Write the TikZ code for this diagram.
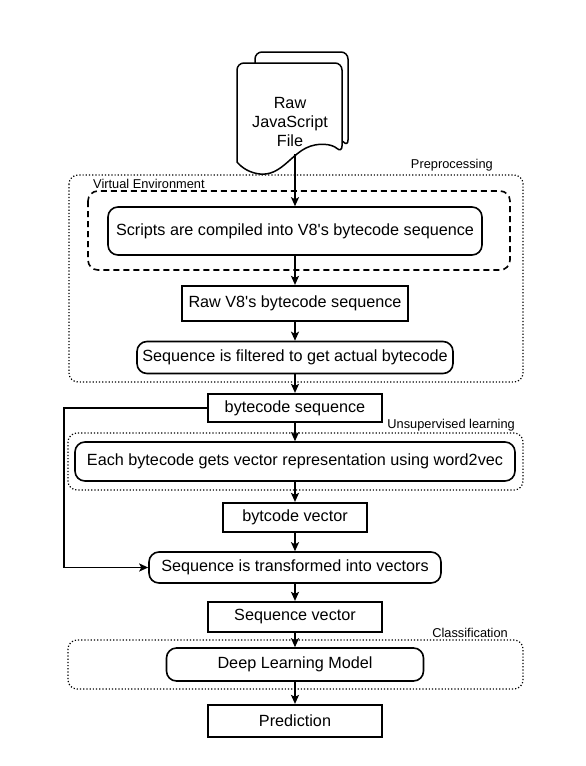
\documentclass[tikz,border=0pt]{standalone}
\usepackage{fontspec}
\setmainfont{Liberation Sans}
\usepackage{tikz}
\usetikzlibrary{
    arrows,
    arrows.meta,
    calc,
    positioning
}

\begin{document}
\begin{tikzpicture}[x=1pt, y=-1pt, >={Stealth[length=9pt, width=8pt, inset=2pt]},
    txt/.style={font=\fontsize{16.2}{19}\selectfont, inner sep=0pt},
    blk/.style={txt, draw, line width=2.2pt, minimum height=#1},
    rnd/.style={txt, draw, line width=1.6pt, rounded corners=10pt, minimum height=#1},
    grp/.style={draw, line width=1.2pt, dotted, rounded corners=9pt},
    lbl/.style={font=\fontsize{12.8}{14}\selectfont, inner sep=0pt},
    flow/.style={->, line width=1.8pt}]
                        \useasboundingbox (0, 0) rectangle (586, 766);
                        % groups
                        \draw[grp] (69, 175) rectangle (523, 382);
                        \draw[line width=1.6pt, dash pattern=on 6pt off 4pt, rounded corners=10pt]
                        (88, 191) rectangle (510, 270);
                        \draw[grp] (68, 433) rectangle (523, 490);
                        \draw[grp] (68, 640) rectangle (523, 689);
                        \node[lbl, anchor=east] (lpre) at (493, 165) {Preprocessing};
                        \node[lbl, anchor=west] (lenv) at (93, 184) {Virtual Environment};
                        \node[lbl, anchor=east] (lunsup) at (515, 425) {Unsupervised learning};
                        \node[lbl, anchor=east] (lcls) at (508, 633) {Classification};
                        % input file
                        \draw[line width=1.5pt, fill=white, rounded corners=7pt]
                        (255, 152) -- (255, 52) -- (348, 52) -- (348, 147)
                        [sharp corners] .. controls (338, 136) and (318, 128) .. (300, 138)
                        .. controls (285, 148) and (268, 160) .. (255, 152);
                        \draw[line width=1.5pt, fill=white, rounded corners=7pt]
                        (237, 162) -- (237, 63) -- (342, 63) -- (342, 153)
                        [sharp corners] .. controls (332, 144) and (318, 142) .. (306, 148)
                        .. controls (290, 156) and (280, 176) .. (260, 174)
                        .. controls (250, 173) and (242, 168) .. (237, 162);
                        \node[txt, align=center] (src) at (290, 122)
                        {Raw\\JavaScript\\File};
                        \coordinate (srcbot) at (295, 154);
                        % steps
                        \node[rnd=48pt, minimum width=374pt] (compile) at (295, 231)
                        {Scripts are compiled into V8\textquotesingle s bytecode sequence};
                        \node[blk=35pt, minimum width=226pt] (rawv8) at (295, 303.5)
                        {Raw V8\textquotesingle s bytecode sequence};
                        \node[rnd=32pt, minimum width=316pt] (filter) at (295, 357.5)
                        {Sequence is filtered to get actual bytecode};
                        \node[blk=28pt, minimum width=174pt] (bseq) at (295, 408)
                        {bytecode sequence};
                        \node[rnd=39pt, minimum width=440pt] (embed) at (295, 461.5)
                        {Each bytecode gets vector representation using word2vec};
                        \node[blk=29pt, minimum width=144pt] (bvec) at (295, 517.5)
                        {bytcode vector};
                        \node[rnd=31pt, minimum width=292pt] (trans) at (295, 567.5)
                        {Sequence is transformed into vectors};
                        \node[blk=30pt, minimum width=174pt] (svec) at (295, 617)
                        {Sequence vector};
                        \node[rnd=33pt, minimum width=257pt] (dlm) at (295, 664.5)
                        {Deep Learning Model};
                        \node[blk=32pt, minimum width=174pt] (pred) at (295, 721)
                        {Prediction};
                        % arrows
                        \draw[flow] (srcbot) -- (compile);
                        \draw[flow]
                        (compile) edge (rawv8)
                        (rawv8) edge (filter)
                        (filter) edge (bseq)
                        (bseq) edge (embed)
                        (embed) edge (bvec)
                        (bvec) edge (trans)
                        (trans) edge (svec)
                        (svec) edge (dlm)
                        (dlm) edge (pred);
                        \draw[flow] (bseq.west) -- (64, 408) |- (trans.west);
                    \end{tikzpicture}
\end{document}
